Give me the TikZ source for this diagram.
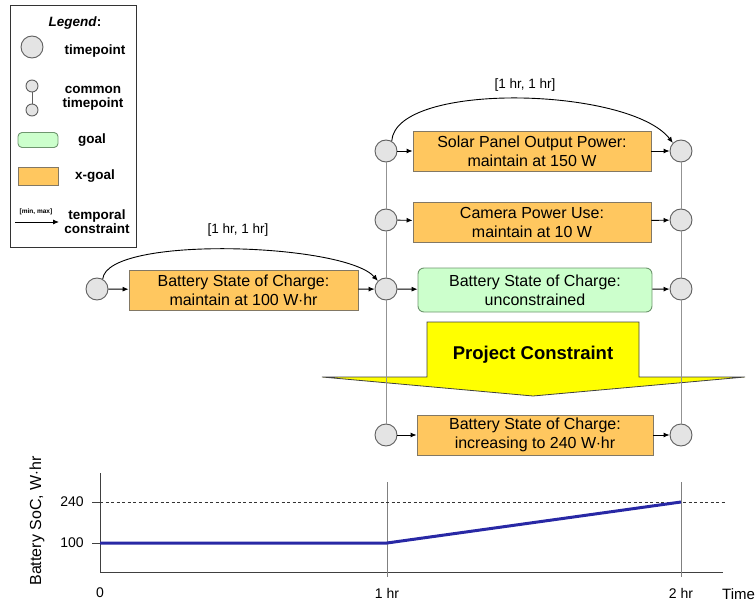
\documentclass[tikz,border=0pt]{standalone}
\usepackage{fontspec}
\setmainfont{Liberation Sans}
\usetikzlibrary{arrows.meta,calc}
\definecolor{xgoalfill}{RGB}{255,199,95}
\definecolor{xgoalline}{RGB}{130,120,100}
\definecolor{goalfill}{RGB}{204,255,204}
\definecolor{goalline}{RGB}{110,150,110}
\definecolor{tpfill}{RGB}{228,228,228}
\definecolor{tpline}{RGB}{95,95,95}
\definecolor{socblue}{RGB}{40,40,165}
\definecolor{pcyellow}{RGB}{255,255,0}
\tikzset{
  tp/.style={circle, draw=tpline, fill=tpfill, line width=0.9pt, minimum size=22pt, inner sep=0pt},
  tpsmall/.style={tp, minimum size=12pt},
  xgoal/.style={rectangle, draw=xgoalline, fill=xgoalfill, line width=0.9pt, align=center,
    font=\fontsize{16}{19}\selectfont, inner sep=0pt},
  goal/.style={rectangle, rounded corners=6pt, draw=goalline, fill=goalfill, line width=0.9pt,
    align=center, font=\fontsize{16}{19}\selectfont, inner sep=0pt},
  con/.style={-{Latex[length=6pt,width=5pt]}, line width=0.9pt, black},
  arc/.style={-{Latex[length=6pt,width=5pt]}, line width=0.9pt, black},
  vline/.style={line width=0.8pt, gray!85},
  legtext/.style={font=\bfseries\fontsize{13.5}{15}\selectfont, align=center, inner sep=0pt},
  boundlabel/.style={font=\fontsize{13.5}{15}\selectfont, inner sep=0pt},
  charttext/.style={font=\fontsize{14}{16}\selectfont, inner sep=0pt},
}
\begin{document}
\begin{tikzpicture}[x=1pt,y=-1pt]
\useasboundingbox (0,0) rectangle (756,602);

% ---------- legend ----------
\node[draw=black!80, line width=0.8pt, minimum width=126pt, minimum height=242pt, inner sep=0pt]
  (legend) at (73,126) {};
\node[legtext] (legtitle) at (75,23) {\textit{Legend}:};
\node[tp] (legtp) at (32,47) {};
\node[legtext] (legtptext) at (95,51) {timepoint};
\node[tpsmall] (legca) at (32,86) {};
\node[tpsmall] (legcb) at (32,110) {};
\draw[vline, tpline] (legca) -- (legcb);
\node[legtext] (legcommon) at (93,98) {common\\[-1pt]timepoint};
\node[goal, rounded corners=4pt, minimum width=40pt, minimum height=15pt] (leggoal) at (38,140) {};
\node[legtext] (leggoaltext) at (92,140) {goal};
\node[xgoal, minimum width=40pt, minimum height=18pt] (legxgoal) at (38,176) {};
\node[legtext] (legxgoaltext) at (95,176) {x-goal};
\coordinate (legarrA) at (15,222);
\coordinate (legarrB) at (59,222);
\draw[con] (legarrA) -- (legarrB);
\node[font=\bfseries\fontsize{6.5}{7}\selectfont, inner sep=0pt] (legminmax) at (36,212) {[min, max]};
\node[legtext] (legtemporal) at (97,222) {temporal\\[-1pt]constraint};

% ---------- first hour: battery held at 100 W.hr ----------
\node[tp] (t0) at (97,289) {};
\node[xgoal, minimum width=229pt, minimum height=40pt] (bat1) at (243.5,290)
  {Battery State of Charge:\\maintain at 100 W$\cdot$hr};

% ---------- second hour: common timepoints ----------
\node[tp] (a1) at (386,151) {};
\node[tp] (a2) at (386,220) {};
\node[tp] (a3) at (386,289) {};
\node[tp] (a4) at (386,435) {};
\node[tp] (b1) at (681,151) {};
\node[tp] (b2) at (681,220) {};
\node[tp] (b3) at (681,289) {};
\node[tp] (b4) at (681,435) {};

\node[xgoal, minimum width=238pt, minimum height=40pt] (solar) at (532,151)
  {Solar Panel Output Power:\\maintain at 150 W};
\node[xgoal, minimum width=238pt, minimum height=40pt] (camera) at (532,222)
  {Camera Power Use:\\maintain at 10 W};
\node[goal, minimum width=234pt, minimum height=44pt] (bat2) at (535,290)
  {Battery State of Charge:\\unconstrained};
\node[xgoal, minimum width=236pt, minimum height=40pt] (bat3) at (535,435)
  {Battery State of Charge:\\increasing to 240 W$\cdot$hr};

% projection arrow
\draw[fill=pcyellow, draw=black!75, line width=0.8pt, line join=miter]
  (427,322) -- (639,322) -- (639,377) -- (745,377) -- (533,396) -- (322,377) -- (427,377) -- cycle;
\node[font=\bfseries\fontsize{18.5}{20}\selectfont, inner sep=0pt] (pc) at (533,355) {Project Constraint};

% common-timepoint links
\draw[vline] (a1.south) -- (a2.north);
\draw[vline] (a2.south) -- (a3.north);
\draw[vline] (a3.south) -- (a4.north);
\draw[vline] (b1.south) -- (b2.north);
\draw[vline] (b2.south) -- (b3.north);
\draw[vline] (b3.south) -- (b4.north);

% goal connectors
\draw[con] (t0) -- (bat1);
\draw[con] (bat1) -- (a3);
\draw[con] (a1) -- (solar);
\draw[con] (solar) -- (b1);
\draw[con] (a2) -- (camera);
\draw[con] (camera) -- (b2);
\draw[con] (a3) -- (bat2);
\draw[con] (bat2) -- (b3);
\draw[con] (a4) -- (bat3);
\draw[con] (bat3) -- (b4);

% temporal constraints
\draw[arc] (t0.60) .. controls +(4,-44) and +(-34,-38) .. (a3.135);
\node[boundlabel] (lab1) at (238,230) {[1 hr, 1 hr]};
\draw[arc] (a1.60) .. controls +(4,-60) and +(-44,-56) .. (b1.135);
\node[boundlabel] (lab2) at (525,85) {[1 hr, 1 hr]};

% ---------- state of charge chart ----------
\coordinate (origin) at (100,572);
\coordinate (ytop) at (100,473);
\coordinate (xend) at (723,572);
\draw[line width=0.9pt, black!75] (ytop) -- (origin) -- (xend);
\draw[line width=0.6pt, gray] (387,482) -- (387,577);
\draw[line width=0.6pt, gray] (681,482) -- (681,577);
\draw[line width=0.8pt, black!80, dash pattern=on 3pt off 2.5pt] (100,502) -- (725,502);
\draw[line width=0.8pt, black!75] (92,502) -- (100,502);
\draw[line width=0.8pt, black!75] (92,543) -- (100,543);
\coordinate (s0) at (100,543);
\coordinate (s1) at (387,543);
\coordinate (s2) at (681,502);
\draw[socblue, line width=3pt, line join=round] (s0) -- (s1) -- (s2);

\node[charttext] (y240) at (72,502) {240};
\node[charttext] (y100) at (72,543) {100};
\node[charttext] (x0) at (100,593) {0};
\node[charttext] (x1) at (387,593) {1 hr};
\node[charttext] (x2) at (681,593) {2 hr};
\node[charttext, anchor=west, font=\fontsize{15}{17}\selectfont] (xtime) at (722,594) {Time};
\node[charttext, rotate=90, font=\fontsize{16}{18}\selectfont] (ylab) at (37,521) {Battery SoC, W$\cdot$hr};
\end{tikzpicture}
\end{document}
